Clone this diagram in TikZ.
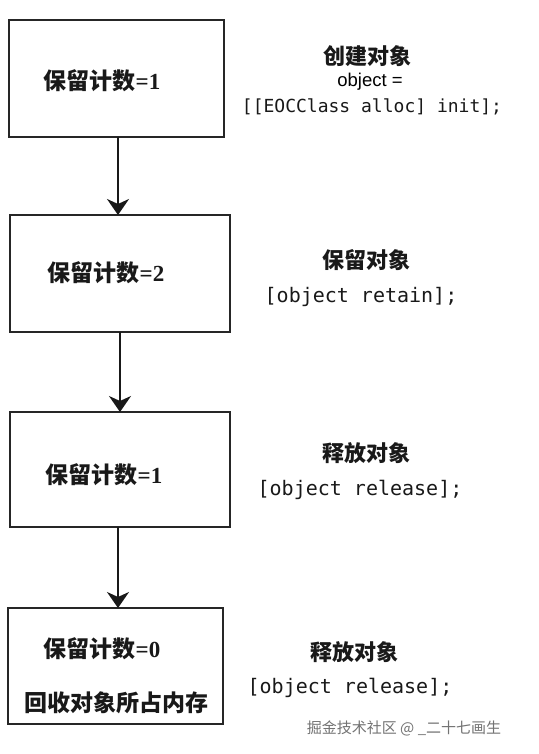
\documentclass[tikz,border=0pt]{standalone}
\usepackage{fontspec}
\setmainfont{Liberation Serif}
\setsansfont{Liberation Sans}
\setmonofont{DejaVu Sans Mono}
\newfontfamily\cjk{Noto Sans CJK SC}
\usetikzlibrary{arrows.meta}
\begin{document}
\begin{tikzpicture}[x=1pt,y=-1pt,
  box/.style={draw=black!85, line width=1.6pt, rectangle, inner sep=0pt, outer sep=0pt, fill=white},
  cnt/.style={font=\bfseries\fontsize{23}{26}\selectfont, inner sep=0pt, text=black!90},
  head/.style={font=\cjk\bfseries\fontsize{22}{26}\selectfont, inner sep=0pt, text=black!90},
  code/.style={font=\ttfamily\fontsize{20}{24}\selectfont, inner sep=0pt, text=black!90},
  flow/.style={line width=2pt, draw=black!90, -{Stealth[length=16pt,width=22pt,inset=5pt]}}]
\useasboundingbox (0,0) rectangle (538,754);
\fill[white] (0,0) rectangle (538,754);
% boxes
\node[box, minimum width=215pt, minimum height=117pt] (b1) at (116.5,78.5) {};
\node[box, minimum width=220pt, minimum height=117pt] (b2) at (120,273.5) {};
\node[box, minimum width=220pt, minimum height=115pt] (b3) at (120,469.5) {};
\node[box, minimum width=215pt, minimum height=116pt] (b4) at (115.5,666) {};
% arrow positions
\coordinate (a1) at (118,0);
\coordinate (a2) at (120,0);
\coordinate (a3) at (118,0);
% box texts
\node[cnt] (t1) at (102,81) {{\cjk\bfseries 保留计数}=1};
\node[cnt] (t2) at (106,273) {{\cjk\bfseries 保留计数}=2};
\node[cnt] (t3) at (104,475) {{\cjk\bfseries 保留计数}=1};
\node[cnt] (t4) at (102,649) {{\cjk\bfseries 保留计数}=0};
\node[cnt] (t5) at (116,703) {\cjk\bfseries 回收对象所占内存};
% arrows
\draw[flow] (a1 |- b1.south) -- (a1 |- b2.north);
\draw[flow] (a2 |- b2.south) -- (a2 |- b3.north);
\draw[flow] (a3 |- b3.south) -- (a3 |- b4.north);
% right labels
\node[head] (h1) at (367,56) {创建对象};
\node[font=\sffamily\fontsize{18.5}{22}\selectfont, inner sep=0pt] (c1a) at (370,82) {object =};
\node[code, font=\ttfamily\fontsize{18}{22}\selectfont] (c1b) at (372,107) {[[EOCClass alloc] init];};
\node[head] (h2) at (366,260) {保留对象};
\node[code] (c2) at (361,297) {[object retain];};
\node[head] (h3) at (366,453) {释放对象};
\node[code] (c3) at (360,490) {[object release];};
\node[head] (h4) at (354,652) {释放对象};
\node[code] (c4) at (350,688) {[object release];};
% watermark
\node[font=\cjk\fontsize{15}{18}\selectfont, text=black!55, inner sep=0pt] (wm) at (404,728) {掘金技术社区 @ \_二十七画生};
\end{tikzpicture}
\end{document}
